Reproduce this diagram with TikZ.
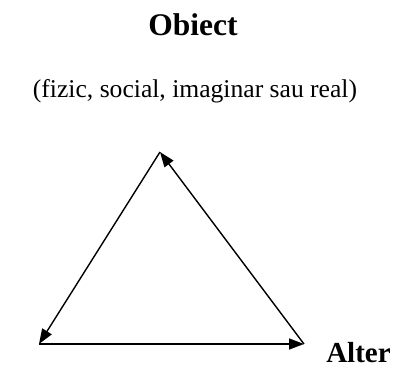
\documentclass[tikz,border=0pt]{standalone}
\usepackage{fontspec}
\setmainfont{Liberation Serif}
\usetikzlibrary{arrows.meta}
\begin{document}
\begin{tikzpicture}[x=1pt,y=-1pt,
  edge/.style={line width=1.4pt,-{Triangle[length=15pt,width=11pt]}},
  lbl/.style={font=\fontsize{25.6}{30}\selectfont,inner sep=0pt},
  blbl/.style={font=\fontsize{31.5}{36}\selectfont\bfseries,inner sep=0pt},
  alterlbl/.style={font=\fontsize{29}{34}\selectfont\bfseries,inner sep=0pt}]
\useasboundingbox (0,0) rectangle (416,370);
\node[blbl,anchor=base] (obj) at (193,35) {Obiect};
\node[lbl,anchor=base] (cap) at (195,97) {(fizic, social, imaginar sau real)};
\node[alterlbl,anchor=base] (alter) at (358.5,362) {Alter};
\coordinate (t) at (160,152);
\coordinate (l) at (39,344);
\coordinate (r) at (304,344);
\draw[edge] (t) -- (l);
\draw[edge] (l) -- (r);
\draw[edge] (r) -- (t);
\end{tikzpicture}
\end{document}
